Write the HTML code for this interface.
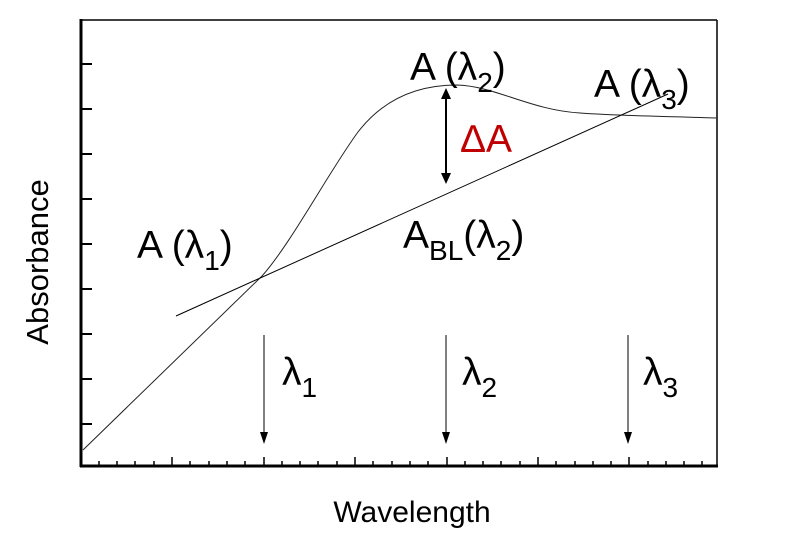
<!DOCTYPE html>
<html><head><style>body{margin:0;background:#fff}svg{display:block}</style></head>
<body>
<svg width="800" height="535" viewBox="0 0 800 535" font-family="Liberation Sans, sans-serif">
<rect width="800" height="535" fill="#fff"/>
<line x1="81" y1="20" x2="717" y2="20" stroke="#000" stroke-width="1.5"/>
<line x1="717" y1="20" x2="717" y2="466" stroke="#000" stroke-width="1.5"/>
<line x1="81" y1="19" x2="81" y2="467" stroke="#000" stroke-width="3"/>
<line x1="80" y1="466" x2="718" y2="466" stroke="#000" stroke-width="3"/>
<g stroke="#000" stroke-width="2">
<line x1="81" y1="64" x2="92" y2="64"/><line x1="81" y1="109" x2="92" y2="109"/><line x1="81" y1="154" x2="92" y2="154"/><line x1="81" y1="199" x2="92" y2="199"/><line x1="81" y1="244" x2="92" y2="244"/><line x1="81" y1="289" x2="92" y2="289"/><line x1="81" y1="334" x2="92" y2="334"/><line x1="81" y1="379" x2="92" y2="379"/><line x1="81" y1="424" x2="92" y2="424"/>
</g>
<g stroke="#000" stroke-width="1.5">
<line x1="99" y1="466" x2="99" y2="461"/><line x1="117" y1="466" x2="117" y2="461"/><line x1="135" y1="466" x2="135" y2="461"/><line x1="154" y1="466" x2="154" y2="461"/><line x1="172" y1="466" x2="172" y2="457"/>
<line x1="190" y1="466" x2="190" y2="461"/><line x1="209" y1="466" x2="209" y2="461"/><line x1="227" y1="466" x2="227" y2="461"/><line x1="245" y1="466" x2="245" y2="461"/><line x1="264" y1="466" x2="264" y2="457"/>
<line x1="282" y1="466" x2="282" y2="461"/><line x1="300" y1="466" x2="300" y2="461"/><line x1="318" y1="466" x2="318" y2="461"/><line x1="337" y1="466" x2="337" y2="461"/><line x1="355" y1="466" x2="355" y2="457"/>
<line x1="373" y1="466" x2="373" y2="461"/><line x1="392" y1="466" x2="392" y2="461"/><line x1="410" y1="466" x2="410" y2="461"/><line x1="428" y1="466" x2="428" y2="461"/><line x1="447" y1="466" x2="447" y2="457"/>
<line x1="465" y1="466" x2="465" y2="461"/><line x1="483" y1="466" x2="483" y2="461"/><line x1="501" y1="466" x2="501" y2="461"/><line x1="520" y1="466" x2="520" y2="461"/><line x1="538" y1="466" x2="538" y2="457"/>
<line x1="556" y1="466" x2="556" y2="461"/><line x1="575" y1="466" x2="575" y2="461"/><line x1="593" y1="466" x2="593" y2="461"/><line x1="611" y1="466" x2="611" y2="461"/><line x1="629" y1="466" x2="629" y2="457"/>
<line x1="648" y1="466" x2="648" y2="461"/><line x1="666" y1="466" x2="666" y2="461"/><line x1="684" y1="466" x2="684" y2="461"/><line x1="702" y1="466" x2="702" y2="461"/>
</g>
<path d="M83,450 L262,276 C290,245 330,170 358,132 C385,97 420,85 457,85 C495,86 530,110 580,113 C620,116 660,116 717,118" fill="none" stroke="#222" stroke-width="1"/>
<line x1="176" y1="316" x2="668" y2="94" stroke="#000" stroke-width="1"/>
<line x1="446" y1="96" x2="446" y2="176" stroke="#000" stroke-width="2"/>
<path d="M446,88 L441,99 L451,99 Z M446,184 L441,173 L451,173 Z" fill="#000"/>
<g stroke="#000" stroke-width="1">
<line x1="264" y1="335" x2="264" y2="436"/><line x1="446" y1="335" x2="446" y2="436"/><line x1="628" y1="335" x2="628" y2="436"/>
</g>
<path d="M260,432 L268,432 L264,444 Z M442,432 L450,432 L446,444 Z M624,432 L632,432 L628,444 Z" fill="#000"/>
<g font-size="39" fill="#000">
<text x="137" y="258">A (λ<tspan font-size="28" dy="12">1</tspan><tspan dy="-12">)</tspan></text>
<text x="410" y="80">A (λ<tspan font-size="28" dy="12">2</tspan><tspan dy="-12">)</tspan></text>
<text x="594" y="97">A (λ<tspan font-size="28" dy="12">3</tspan><tspan dy="-12">)</tspan></text>
<text x="403" y="248">A<tspan font-size="28" dy="12">BL</tspan><tspan dy="-12">(λ</tspan><tspan font-size="28" dy="12">2</tspan><tspan dy="-12">)</tspan></text>
<text x="460" y="152" fill="#c00000">ΔA</text>
<text x="282" y="385">λ<tspan font-size="28" dy="12">1</tspan></text>
<text x="462" y="385">λ<tspan font-size="28" dy="12">2</tspan></text>
<text x="643" y="385">λ<tspan font-size="28" dy="12">3</tspan></text>
</g>
<text x="412" y="522" font-size="30" text-anchor="middle">Wavelength</text>
<text transform="translate(48,262) rotate(-90)" font-size="31" text-anchor="middle">Absorbance</text>
</svg>
</body></html>
